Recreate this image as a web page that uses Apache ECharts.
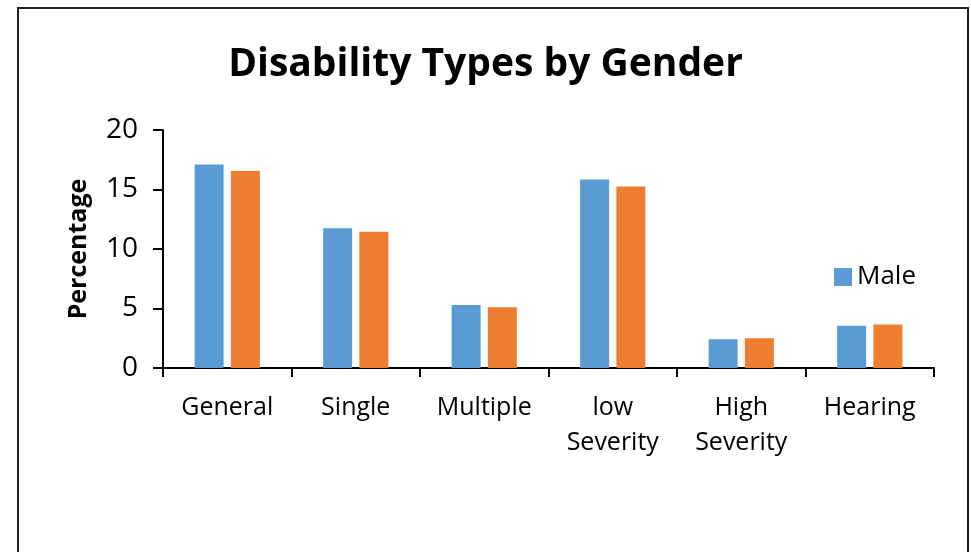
<!DOCTYPE html>
<html>
<head>
<meta charset="utf-8">
<script src="https://cdn.jsdelivr.net/npm/echarts@6/dist/echarts.min.js"></script>
<style>
html,body{margin:0;padding:0;background:#fff;}
#chart{width:971px;height:552px;}
</style>
</head>
<body>
<div id="chart"></div>
<script>
const categories = ['General', 'Single', 'Multiple', 'low\nSeverity', 'High\nSeverity', 'Hearing'];
const maleValues = [17.1, 11.75, 5.3, 15.85, 2.42, 3.56];
const femaleValues = [16.55, 11.45, 5.1, 15.25, 2.5, 3.65];
const yTicks = [0, 5, 10, 15, 20];

const FONT = 'Open Sans';
const chart = echarts.init(document.getElementById('chart'), null, {renderer: 'canvas'});
chart.setOption({
  backgroundColor: '#ffffff',
  animation: false,
  title: {
    text: 'Disability Types by Gender',
    left: 'center',
    top: 40,
    textStyle: {fontFamily: FONT, fontWeight: 'bold', fontSize: 39, color: '#000'}
  },
  legend: {
    data: ['Male'],
    left: 829,
    top: 259,
    itemWidth: 18,
    itemHeight: 18,
    itemGap: 6,
    icon: 'rect',
    textStyle: {fontFamily: FONT, fontSize: 26, color: '#000'}
  },
  graphic: [{
    type: 'rect',
    shape: {x: 18, y: 8, width: 950, height: 560},
    style: {fill: 'none', stroke: '#222', lineWidth: 2},
    silent: true
  }],
  grid: {left: 163, right: 37, top: 130, bottom: 184},
  xAxis: {
    type: 'category',
    data: categories,
    axisLine: {lineStyle: {color: '#000', width: 2}},
    axisTick: {show: true, length: 9, lineStyle: {color: '#000', width: 2}},
    axisLabel: {fontFamily: FONT, fontSize: 25, color: '#000', margin: 22, lineHeight: 35, interval: 0}
  },
  yAxis: {
    type: 'value',
    min: 0,
    max: 20,
    interval: 5,
    name: 'Percentage',
    nameLocation: 'middle',
    nameGap: 72,
    nameTextStyle: {fontFamily: FONT, fontWeight: 'bold', fontSize: 25, color: '#000'},
    axisLine: {show: true, lineStyle: {color: '#000', width: 2}},
    axisTick: {show: true, length: 10, lineStyle: {color: '#000', width: 2}},
    splitLine: {show: false},
    axisLabel: {
      fontFamily: FONT, fontSize: 28, color: '#000', margin: 25,
      formatter: function (v) { return yTicks.indexOf(v) >= 0 ? String(v) : ''; }
    }
  },
  series: [
    {name: 'Male', type: 'bar', data: maleValues, barWidth: 29, barGap: '25%', itemStyle: {color: '#5B9BD5'}},
    {name: 'Female', type: 'bar', data: femaleValues, barWidth: 29, itemStyle: {color: '#ED7D31'}}
  ]
});
</script>
</body>
</html>
